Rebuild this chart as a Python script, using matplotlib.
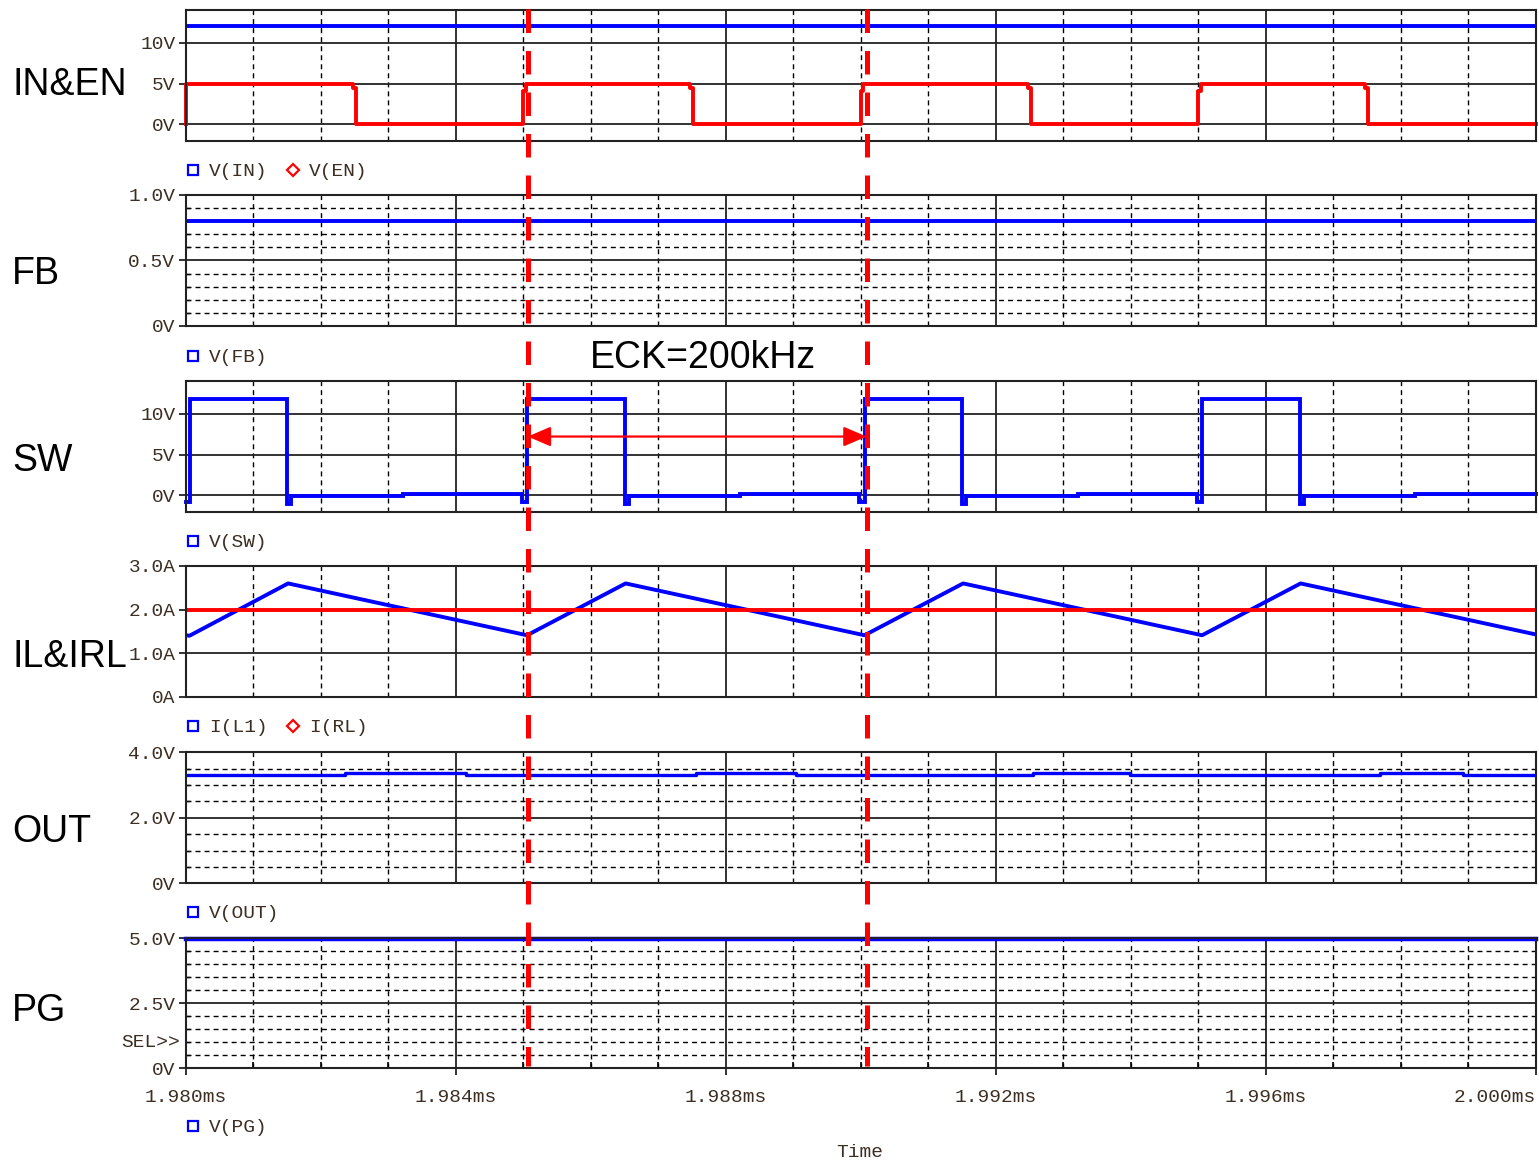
import numpy as np
import matplotlib.pyplot as plt
from matplotlib.lines import Line2D
from matplotlib.ticker import MultipleLocator, FixedLocator, NullLocator
from matplotlib.transforms import blended_transform_factory

# ---------------- data (time in ms) ----------------
t_span = [1.980, 2.000]

in_v = [12.0, 12.0]

en_t = [1.98000, 1.980005, 1.98248, 1.98252, 1.98500, 1.98504, 1.98748, 1.98752,
        1.99000, 1.99004, 1.99248, 1.99252, 1.99500, 1.99504, 1.99748, 1.99752, 2.00000]
en_v = [0.0, 5.0, 4.4, 0.0, 4.1, 5.0, 4.4, 0.0,
        4.1, 5.0, 4.4, 0.0, 4.1, 5.0, 4.4, 0.0, 0.0]

fb_v = [0.80, 0.80]

sw_t = [1.98000, 1.98006, 1.98151, 1.98157, 1.98322,
        1.98498, 1.98506, 1.98651, 1.98657, 1.98822,
        1.98998, 1.99006, 1.99151, 1.99157, 1.99322,
        1.99498, 1.99506, 1.99651, 1.99657, 1.99822, 2.00000]
sw_v = [-0.8, 11.8, -1.1, -0.12, 0.12,
        -0.8, 11.8, -1.1, -0.12, 0.12,
        -0.8, 11.8, -1.1, -0.12, 0.12,
        -0.8, 11.8, -1.1, -0.12, 0.12, 0.12]

il_t = [1.98000, 1.98006, 1.98152, 1.98506, 1.98652, 1.99006, 1.99152, 1.99506, 1.99652, 2.00000]
il_v = [1.41, 1.40, 2.60, 1.41, 2.60, 1.41, 2.60, 1.41, 2.60, 1.43]
irl_v = [2.0, 2.0]

out_t = [1.98000, 1.98237, 1.98415, 1.98756, 1.98904, 1.99255, 1.99399, 1.99769, 1.99893, 2.00000]
out_v = [3.32, 3.37, 3.32, 3.37, 3.32, 3.37, 3.32, 3.37, 3.32, 3.32]

pg_v = [4.99, 4.99]

marker_t = [1.98507, 1.99009]   # red cursor lines
arrow_v = 7.2                   # level of the period arrow in the SW panel

x_ticks = [1.980, 1.984, 1.988, 1.992, 1.996, 2.000]
x_labels = ['1.980ms', '1.984ms', '1.988ms', '1.992ms', '1.996ms', '2.000ms']

# ---------------- layout (pixels of a 1539x1160 picture) ----------------
W, H = 1539, 1160
BLUE, RED = '#0000ff', '#ff0000'
TXT = '#3d2e22'
MONO = 'Liberation Mono'
SANS = 'Liberation Sans'

rows = [(10, 140.7), (195, 326), (381, 511.7), (566, 696.7), (752.3, 883.3), (938.3, 1068.3)]
ylims = [(-2, 14), (0, 1), (-2, 14), (0, 3), (0, 4), (0, 5)]
yticks = [[0, 5, 10], [0, 0.5, 1.0], [0, 5, 10], [0, 1, 2, 3], [0, 2, 4], [0, 2.5, 5]]
ylabels = [['0V', '5V', '10V'], ['0V', '0.5V', '1.0V'], ['0V', '5V', '10V'],
           ['0A', '1.0A', '2.0A', '3.0A'], ['0V', '2.0V', '4.0V'], ['0V', '2.5V', '5.0V']]
yminor = [None, 0.1, None, None, 0.5, 0.5]
names = ['IN&EN', 'FB', 'SW', 'IL&IRL', 'OUT', 'PG']
name_base = [95, 284, 471, 667, 842, 1021]
legends = [[('V(IN)', BLUE, 's'), ('V(EN)', RED, 'D')],
           [('V(FB)', BLUE, 's')],
           [('V(SW)', BLUE, 's')],
           [('I(L1)', BLUE, 's'), ('I(RL)', RED, 'D')],
           [('V(OUT)', BLUE, 's')],
           [('V(PG)', BLUE, 's')]]
legend_base = [176, 362, 547, 732, 918, 1132]


def fx(px):
    return px / W


def fy(py):
    return 1 - py / H


fig = plt.figure(figsize=(W / 100, H / 100), dpi=100)

axes = []
for i, (top, bot) in enumerate(rows):
    ax = fig.add_axes([fx(185.5), fy(bot), fx(1350), (bot - top) / H])
    ax.set_xlim(t_span)
    ax.set_ylim(ylims[i])
    ax.xaxis.set_major_locator(FixedLocator(x_ticks))
    ax.xaxis.set_minor_locator(MultipleLocator(0.001))
    ax.yaxis.set_major_locator(FixedLocator(yticks[i]))
    ax.set_yticklabels(ylabels[i], family=MONO, fontsize=14, color=TXT)
    if yminor[i]:
        ax.yaxis.set_minor_locator(MultipleLocator(yminor[i]))
        ax.yaxis.grid(True, which='minor', color='k', lw=1.0, ls=(0, (3.6, 2.9)))
    else:
        ax.yaxis.set_minor_locator(NullLocator())
    ax.yaxis.grid(True, which='major', color='#222222', lw=1.3)
    ax.xaxis.grid(True, which='major', color='#222222', lw=1.3)
    ax.xaxis.grid(True, which='minor', color='k', lw=1.0, ls=(0, (3.6, 2.9)))
    ax.set_axisbelow(True)
    ax.tick_params(axis='y', which='major', direction='out', length=4.8, width=1.3,
                   pad=2.5, color='#222222')
    ax.tick_params(axis='y', which='minor', direction='in', length=3, width=1.0)
    if i < len(rows) - 1:
        ax.tick_params(axis='x', which='both', length=0, labelbottom=False)
    else:
        ax.tick_params(axis='x', which='major', direction='out', length=5, width=1.3,
                       pad=10, color='#222222')
        ax.tick_params(axis='x', which='minor', direction='in', length=4.5, width=1.2)
        ax.set_xticklabels(x_labels, family=MONO, fontsize=14, color=TXT)
        ax.get_xticklabels()[-1].set_horizontalalignment('right')
    for s in ax.spines.values():
        s.set_color('#222222')
        s.set_linewidth(1.5)
    axes.append(ax)

lw = 2.8
axes[0].plot(t_span, in_v, color=BLUE, lw=lw)
axes[0].plot(en_t, en_v, color=RED, lw=lw, drawstyle='steps-post', clip_on=False)
axes[1].plot(t_span, fb_v, color=BLUE, lw=lw)
axes[2].plot(sw_t, sw_v, color=BLUE, lw=lw, drawstyle='steps-post',
             solid_joinstyle='miter', clip_on=False)
axes[3].plot(il_t, il_v, color=BLUE, lw=lw)
axes[3].plot(t_span, irl_v, color=RED, lw=lw)
axes[4].plot(out_t, out_v, color=BLUE, lw=2.4, drawstyle='steps-post')
axes[5].plot(t_span, pg_v, color=BLUE, lw=3.2, clip_on=False)

# names on the left
for name, yb in zip(names, name_base):
    fig.text(fx(12), fy(yb), name, family=SANS, fontsize=27, color='k', va='baseline')

# legend rows under each panel
for items, yb in zip(legends, legend_base):
    x0 = 193
    for label, col, mk in items:
        fig.add_artist(Line2D([fx(x0)], [fy(yb - 6)], transform=fig.transFigure,
                              marker=mk, ms=7 if mk == 's' else 6.5, mfc='none',
                              mec=col, mew=1.6, ls='none'))
        fig.text(fx(x0 + 16), fy(yb), label, family=MONO, fontsize=14, color=TXT,
                 va='baseline')
        x0 += 100

# SEL>> marker in the PG panel
axes[5].text(-0.004, 1.0, 'SEL>>',
             transform=blended_transform_factory(axes[5].transAxes, axes[5].transData),
             family=MONO, fontsize=14, color=TXT, ha='right', va='center')

fig.text(fx(860), fy(1157), 'Time', family=MONO, fontsize=14, color=TXT,
         ha='center', va='baseline')

# ECK annotation
fig.text(fx(590), fy(368), 'ECK=200kHz', family=SANS, fontsize=27, color='k', va='baseline')
axes[2].annotate('', xy=(marker_t[0], arrow_v), xytext=(marker_t[1], arrow_v),
                 arrowprops=dict(arrowstyle='<|-|>,head_length=0.7,head_width=0.3',
                                 color=RED, lw=1.6, shrinkA=0, shrinkB=0,
                                 mutation_scale=20), zorder=5)

# red dashed cursor lines across all panels
tr = blended_transform_factory(axes[0].transData, fig.transFigure)
for tm in marker_t:
    fig.add_artist(Line2D([tm, tm], [fy(9), fy(1066)], transform=tr, color=RED,
                          lw=3.6, dashes=(4.7, 3.6), zorder=10))

fig.savefig('out.png', dpi=100)
